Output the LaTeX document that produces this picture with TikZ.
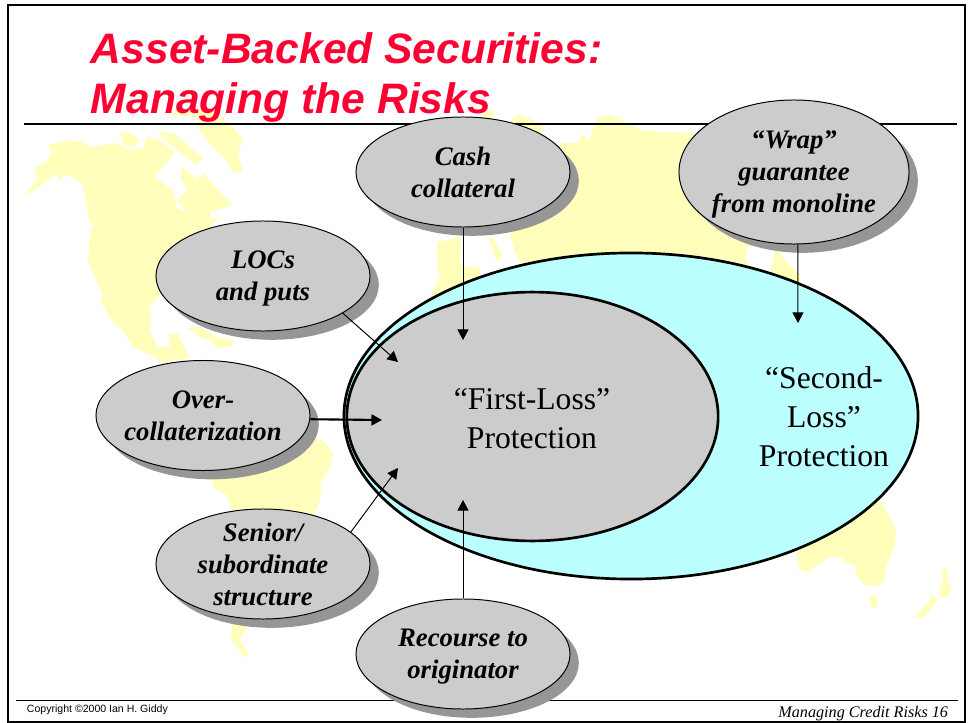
\documentclass[tikz,border=0pt]{standalone}
\usepackage{fontspec}
\setmainfont{Liberation Serif}
\newfontfamily\arialfont{Liberation Sans}
\usetikzlibrary{shapes.geometric, shadows, arrows.meta}
\definecolor{mapyellow}{HTML}{FFFFBB}
\definecolor{lossblue}{HTML}{BBFFFF}
\definecolor{lossgray}{HTML}{CCCCCC}
\definecolor{shadowgray}{HTML}{969696}
\definecolor{titlered}{HTML}{FF0033}
\tikzset{
  land/.style = {fill = mapyellow, draw = none},
  risk/.style = {ellipse, draw = black, fill = lossgray, inner sep = -.6cm, line width = .7pt, align = center,
    minimum width = 5.35cm, minimum height = 2.75cm, text depth = 0pt,
    font = \fontsize{19}{22.8}\selectfont\bfseries\itshape,
    general shadow = {fill = shadowgray, shadow xshift = .22cm, shadow yshift = -.22cm}},
  loss/.style = {ellipse, draw = black, inner sep = 0, line width = 1.9pt},
  losstext/.style = {align = center, font = \fontsize{22.5}{27.7}\selectfont},
  feed/.style = {-{Triangle[length = 7.5pt, width = 7.8pt]}, line width = .7pt}
}
\begin{document}
\begin{tikzpicture}[x = .025cm, y = -.025cm]
\useasboundingbox (0, 0) rectangle (969, 723);

\fill [land] (173, 115) -- (197, 117) -- (200, 132) -- (213, 147) -- (227, 162) -- (233, 172) -- (240, 173) -- (242, 168) -- (238, 153) -- (243, 140) -- (233, 127) -- (220, 117) -- (213, 110) -- (175, 108) -- cycle;
\fill [land] (23, 197) -- (37, 188) -- (57, 173) -- (59, 181) -- (65, 175) -- (75, 178) -- (83, 185) -- (87, 207) -- (88, 217) -- (93, 225) -- (90, 233) -- (88, 260) -- (100, 290) -- (113, 317) -- (127, 337) -- (133, 347) -- (150, 355) -- (163, 362) -- (190, 358) -- (177, 333) -- (168, 335) -- (170, 347) -- (157, 347) -- (150, 330) -- (150, 307) -- (157, 298) -- (213, 223) -- (220, 218) -- (210, 218) -- (210, 212) -- (232, 205) -- (220, 192) -- (203, 173) -- (197, 180) -- (182, 167) -- (180, 178) -- (187, 190) -- (177, 200) -- (187, 212) -- (177, 208) -- (173, 190) -- (153, 177) -- (167, 162) -- (175, 153) -- (160, 140) -- (147, 138) -- (143, 148) -- (128, 150) -- (117, 143) -- (90, 147) -- (82, 142) -- (70, 140) -- (62, 142) -- (48, 145) -- (52, 152) -- (45, 163) -- (35, 167) -- (37, 180) -- cycle;
\fill [land] (100, 300) -- (106, 295) -- (117, 320) -- (117, 327) -- (107, 313) -- cycle;
\fill [land] (120, 132) -- (130, 133) -- (140, 140) -- (133, 147) -- (123, 145) -- cycle;
\fill [land] (158, 132) -- (173, 133) -- (190, 147) -- (203, 158) -- (197, 165) -- (177, 150) -- (165, 140) -- cycle;
\fill [land] (187, 328) -- (200, 327) -- (217, 338) -- (233, 340) -- (232, 347) -- (217, 348) -- (213, 342) -- (200, 337) -- cycle;
\fill [land] (163, 362) -- (200, 370) -- (300, 420) -- (313, 437) -- (325, 442) -- (333, 455) -- (330, 468) -- (322, 480) -- (320, 500) -- (313, 517) -- (300, 560) -- (247, 627) -- (240, 640) -- (249, 655) -- (245, 657) -- (230, 638) -- (232, 630) -- (232, 510) -- (227, 495) -- (213, 487) -- (213, 480) -- cycle;
\fill [land] (474, 125) -- (478, 117) -- (490, 110) -- (494, 112) -- (490, 125) -- cycle;
\fill [land] (510, 120) -- (520, 115) -- (533, 120) -- (543, 125) -- (542, 133) -- (520, 150) -- cycle;
\fill [land] (560, 143) -- (578, 143) -- (582, 133) -- (588, 142) -- (598, 118) -- (608, 115) -- (623, 120) -- (640, 130) -- (660, 132) -- (693, 133) -- (720, 140) -- (760, 170) -- (760, 240) -- (748, 247) -- (745, 258) -- (752, 270) -- (740, 300) -- (560, 300) -- (525, 270) -- (520, 262) -- (515, 252) -- (510, 235) -- (540, 200) -- cycle;
\fill [land] (437, 242) -- (457, 238) -- (461, 235) -- (460, 266) -- (480, 268) -- (480, 277) -- (462, 290) -- (428, 302) -- (440, 277) -- (438, 270) -- cycle;
\fill [land] (487, 237) -- (493, 238) -- (503, 257) -- (497, 262) -- (492, 247) -- cycle;
\fill [land] (775, 250) -- (780, 253) -- (787, 263) -- (795, 270) -- (800, 275) -- (800, 290) -- (770, 275) -- cycle;
\fill [land] (880, 500) -- (896, 529) -- (895, 545) -- (886, 567) -- (883, 582) -- (876, 587) -- (864, 584) -- (856, 575) -- (855, 565) -- (844, 562) -- (843, 557) -- (829, 557) -- (819, 565) -- (807, 572) -- (799, 569) -- (797, 552) -- (834, 533) -- (868, 507) -- cycle;
\fill [land] (869, 595) -- (878, 597) -- (876, 608) -- (871, 607) -- cycle;
\fill [land] (942, 567) -- (947, 569) -- (948, 582) -- (952, 586) -- (947, 597) -- (940, 597) -- (939, 589) -- (943, 582) -- cycle;
\fill [land] (931, 594) -- (937, 599) -- (925, 617) -- (914, 618) -- (930, 600) -- cycle;

\draw [line width = 1.4pt] (8, 5) rectangle (965, 722);
\draw [line width = 1.2pt] (24, 124) -- (957, 124);
\draw [line width = .7pt] (16, 700) -- (958, 700);

\node [anchor = west, align = left, text = titlered, font = \arialfont\fontsize{30.3}{36.2}\selectfont\bfseries\itshape] (title) at (86, 77.5) {Asset-Backed Securities:\\Managing the Risks};
\node [anchor = base west, font = \arialfont\fontsize{7.5}{9}\selectfont] (copyright) at (22, 712) {Copyright ©2000 Ian H. Giddy};
\node [anchor = base east, font = \fontsize{11.5}{14}\selectfont\itshape] (page) at (953, 717) {Managing Credit Risks 16};

\node [loss, fill = lossblue, minimum width = 14.35cm, minimum height = 8.15cm] (second) at (631, 416) {};
\node [loss, fill = lossgray, minimum width = 9.28cm, minimum height = 6.22cm] (first) at (532.5, 416.5) {};
\node [losstext] (firsttext) at (532, 418.5) {``First-Loss''\\Protection};
\node [losstext] (secondtext) at (824, 417) {``Second-\\Loss''\\Protection};

\node [risk] (cash) at (463, 172) {Cash\\collateral};
\node [risk, minimum width = 5.75cm, minimum height = 3.6cm] (wrap) at (794, 172) {``Wrap''\\guarantee\\from monoline};
\node [risk] (locs) at (263, 276) {LOCs\\and puts};
\node [risk] (over) at (203, 415.5) {Over-\\collaterization};
\node [risk] (senior) at (263, 564) {Senior/\\subordinate\\structure};
\node [risk] (recourse) at (463, 654) {Recourse to\\originator};

\coordinate (cashend) at (463, 340);
\coordinate (wrapend) at (798, 323);
\coordinate (locsend) at (398, 362);
\coordinate (overend) at (382, 420);
\coordinate (seniorend) at (398, 468);
\coordinate (recourseend) at (463, 500);

\draw [feed] (cash.south) -- (cashend);
\draw [feed] (wrap.-87) -- (wrapend);
\draw [feed] (locs.-25) -- (locsend);
\draw [feed, line width = 1.5pt] (over.-2) -- (overend);
\draw [feed] (senior.20) -- (seniorend);
\draw [feed] (recourse.north) -- (recourseend);
\end{tikzpicture}
\end{document}
